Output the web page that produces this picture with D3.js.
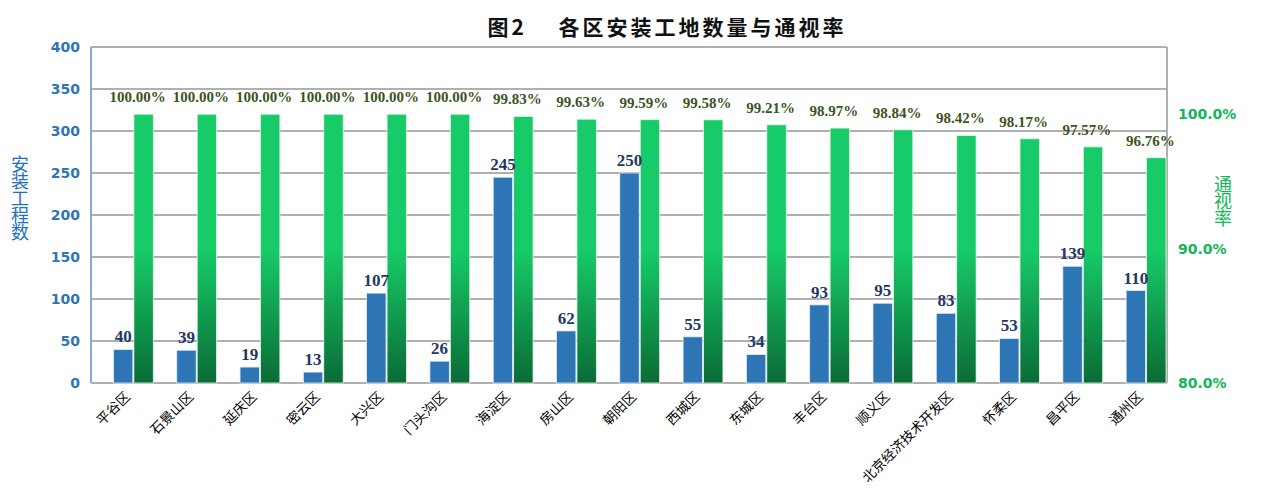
<!DOCTYPE html>
<html>
<head>
<meta charset="utf-8">
<script src="https://cdn.jsdelivr.net/npm/d3@7"></script>
<style>
  body { margin: 0; background: #fff; }
  svg { display: block; }
</style>
</head>
<body>
<svg width="1268" height="489"></svg>
<script>
// data
var districts = ["平谷区", "石景山区", "延庆区", "密云区", "大兴区", "门头沟区", "海淀区", "房山区", "朝阳区",
                 "西城区", "东城区", "丰台区", "顺义区", "北京经济技术开发区", "怀柔区", "昌平区", "通州区"];
var counts = [40, 39, 19, 13, 107, 26, 245, 62, 250, 55, 34, 93, 95, 83, 53, 139, 110];
var rates = [100, 100, 100, 100, 100, 100, 99.83, 99.63, 99.59, 99.58, 99.21, 98.97, 98.84, 98.42, 98.17, 97.57, 96.76];
var leftTicks = [0, 50, 100, 150, 200, 250, 300, 350, 400];
var rightTicks = [80, 90, 100];

var svg = d3.select("svg"),
    width = +svg.attr("width"),
    height = +svg.attr("height");

var margin = {top: 47, right: 101, bottom: 106, left: 91};
var plotW = width - margin.left - margin.right,
    plotH = height - margin.top - margin.bottom;

var g = svg.append("g").attr("transform", "translate(" + margin.left + "," + margin.top + ")");

var x0 = d3.scaleBand().domain(districts).range([0, plotW]);
// three slots per group, first one left empty like the original
var x1 = d3.scaleBand().domain([0, 1, 2]).range([2, x0.bandwidth() - 1]).paddingInner(0.05);
var yL = d3.scaleLinear().domain([0, 400]).range([plotH, 0]);
var yR = d3.scaleLinear().domain([80, 105]).range([plotH, 0]);

var defs = svg.append("defs");
var grad = defs.append("linearGradient")
    .attr("id", "greenGrad")
    .attr("gradientUnits", "userSpaceOnUse")
    .attr("x1", 0).attr("x2", 0)
    .attr("y1", yL(160)).attr("y2", yL(0));
grad.append("stop").attr("offset", "0%").attr("stop-color", "#17cc68");
grad.append("stop").attr("offset", "100%").attr("stop-color", "#0a6b36");

// gridlines
g.append("g")
  .selectAll("line")
  .data(leftTicks.filter(function(d) { return d > 0; }))
  .enter().append("line")
    .attr("x1", 0).attr("x2", plotW)
    .attr("y1", function(d) { return yL(d); })
    .attr("y2", function(d) { return yL(d); })
    .attr("stroke", "#b0b0b0")
    .attr("stroke-width", 2);

// plot frame
g.append("line").attr("x1", plotW).attr("x2", plotW).attr("y1", 0).attr("y2", plotH)
  .attr("stroke", "#b0b0b0").attr("stroke-width", 2);
g.append("line").attr("x1", 0).attr("x2", plotW).attr("y1", plotH).attr("y2", plotH)
  .attr("stroke", "#b0b0b0").attr("stroke-width", 2);
g.append("line").attr("x1", 0).attr("x2", 0).attr("y1", 0).attr("y2", plotH)
  .attr("stroke", "#86a9d6").attr("stroke-width", 2);

var groups = g.append("g")
  .selectAll("g")
  .data(districts)
  .enter().append("g")
    .attr("transform", function(d) { return "translate(" + x0(d) + ",0)"; });

// blue bars: site counts
groups.append("rect")
    .attr("x", x1(1))
    .attr("width", x1.bandwidth())
    .attr("y", function(d, i) { return yL(counts[i]); })
    .attr("height", function(d, i) { return plotH - yL(counts[i]); })
    .attr("fill", "#2e75b6")
    .attr("stroke", "#e6eef8")
    .attr("stroke-width", 0.8);

// green bars: visibility rate
groups.append("rect")
    .attr("x", x1(2))
    .attr("width", x1.bandwidth())
    .attr("y", function(d, i) { return yR(rates[i]); })
    .attr("height", function(d, i) { return plotH - yR(rates[i]); })
    .attr("fill", "url(#greenGrad)")
    .attr("stroke", "#e6f6ec")
    .attr("stroke-width", 0.8);

groups.append("text")
    .attr("x", x1(1) + x1.bandwidth() / 2)
    .attr("y", function(d, i) { return yL(counts[i]) - 7; })
    .attr("text-anchor", "middle")
    .attr("font-family", "Liberation Serif, serif")
    .attr("font-weight", "bold")
    .attr("font-size", 17)
    .attr("fill", "#203864")
    .text(function(d, i) { return counts[i]; });

groups.append("text")
    .attr("x", x1(2) + x1.bandwidth() / 2 - 6)
    .attr("y", function(d, i) { return yR(rates[i]) - 12; })
    .attr("text-anchor", "middle")
    .attr("font-family", "Liberation Serif, serif")
    .attr("font-weight", "bold")
    .attr("font-size", 15)
    .attr("fill", "#3b5323")
    .text(function(d, i) { return rates[i].toFixed(2) + "%"; });

// x labels
g.append("g")
  .selectAll("text")
  .data(districts)
  .enter().append("text")
    .attr("transform", function(d) {
      return "translate(" + (x0(d) + x0.bandwidth() / 2 + 5) + "," + (plotH + 11) + ") rotate(-45)";
    })
    .attr("text-anchor", "end")
    .attr("dy", "0.35em")
    .attr("font-family", "Noto Sans CJK SC")
    .attr("font-size", 13.5)
    .attr("fill", "#000")
    .text(function(d) { return d; });

// left axis labels
g.append("g")
  .selectAll("text")
  .data(leftTicks)
  .enter().append("text")
    .attr("x", -11)
    .attr("y", function(d) { return yL(d); })
    .attr("dy", "0.35em")
    .attr("text-anchor", "end")
    .attr("font-family", "DejaVu Sans")
    .attr("font-weight", "bold")
    .attr("font-size", 14)
    .attr("fill", "#2e75b6")
    .text(function(d) { return d; });

// right axis labels
g.append("g")
  .selectAll("text")
  .data(rightTicks)
  .enter().append("text")
    .attr("x", plotW + 11)
    .attr("y", function(d) { return yR(d); })
    .attr("dy", "0.35em")
    .attr("text-anchor", "start")
    .attr("font-family", "DejaVu Sans")
    .attr("font-weight", "bold")
    .attr("font-size", 14)
    .attr("fill", "#12b65a")
    .text(function(d) { return d.toFixed(1) + "%"; });

// axis titles, written top to bottom
function vTitle(str, cx, cy, color) {
  svg.append("text")
      .attr("x", cx)
      .attr("y", cy)
      .attr("text-anchor", "middle")
      .attr("writing-mode", "vertical-rl")
      .attr("font-family", "Noto Sans CJK SC")
      .attr("font-size", 18)
      .attr("letter-spacing", -1)
      .attr("fill", color)
      .text(str);
}
vTitle("安装工程数", 20, 198, "#1f70c1");
vTitle("通视率", 1223, 201, "#12b65a");

// title
svg.append("text")
    .attr("x", 667)
    .attr("y", 35)
    .attr("text-anchor", "middle")
    .attr("font-family", "Noto Sans CJK SC")
    .attr("font-weight", "bold")
    .attr("font-size", 21)
    .attr("letter-spacing", 3)
    .attr("fill", "#111")
    .attr("xml:space", "preserve")
    .text("图2　 各区安装工地数量与通视率");
</script>
</body>
</html>
